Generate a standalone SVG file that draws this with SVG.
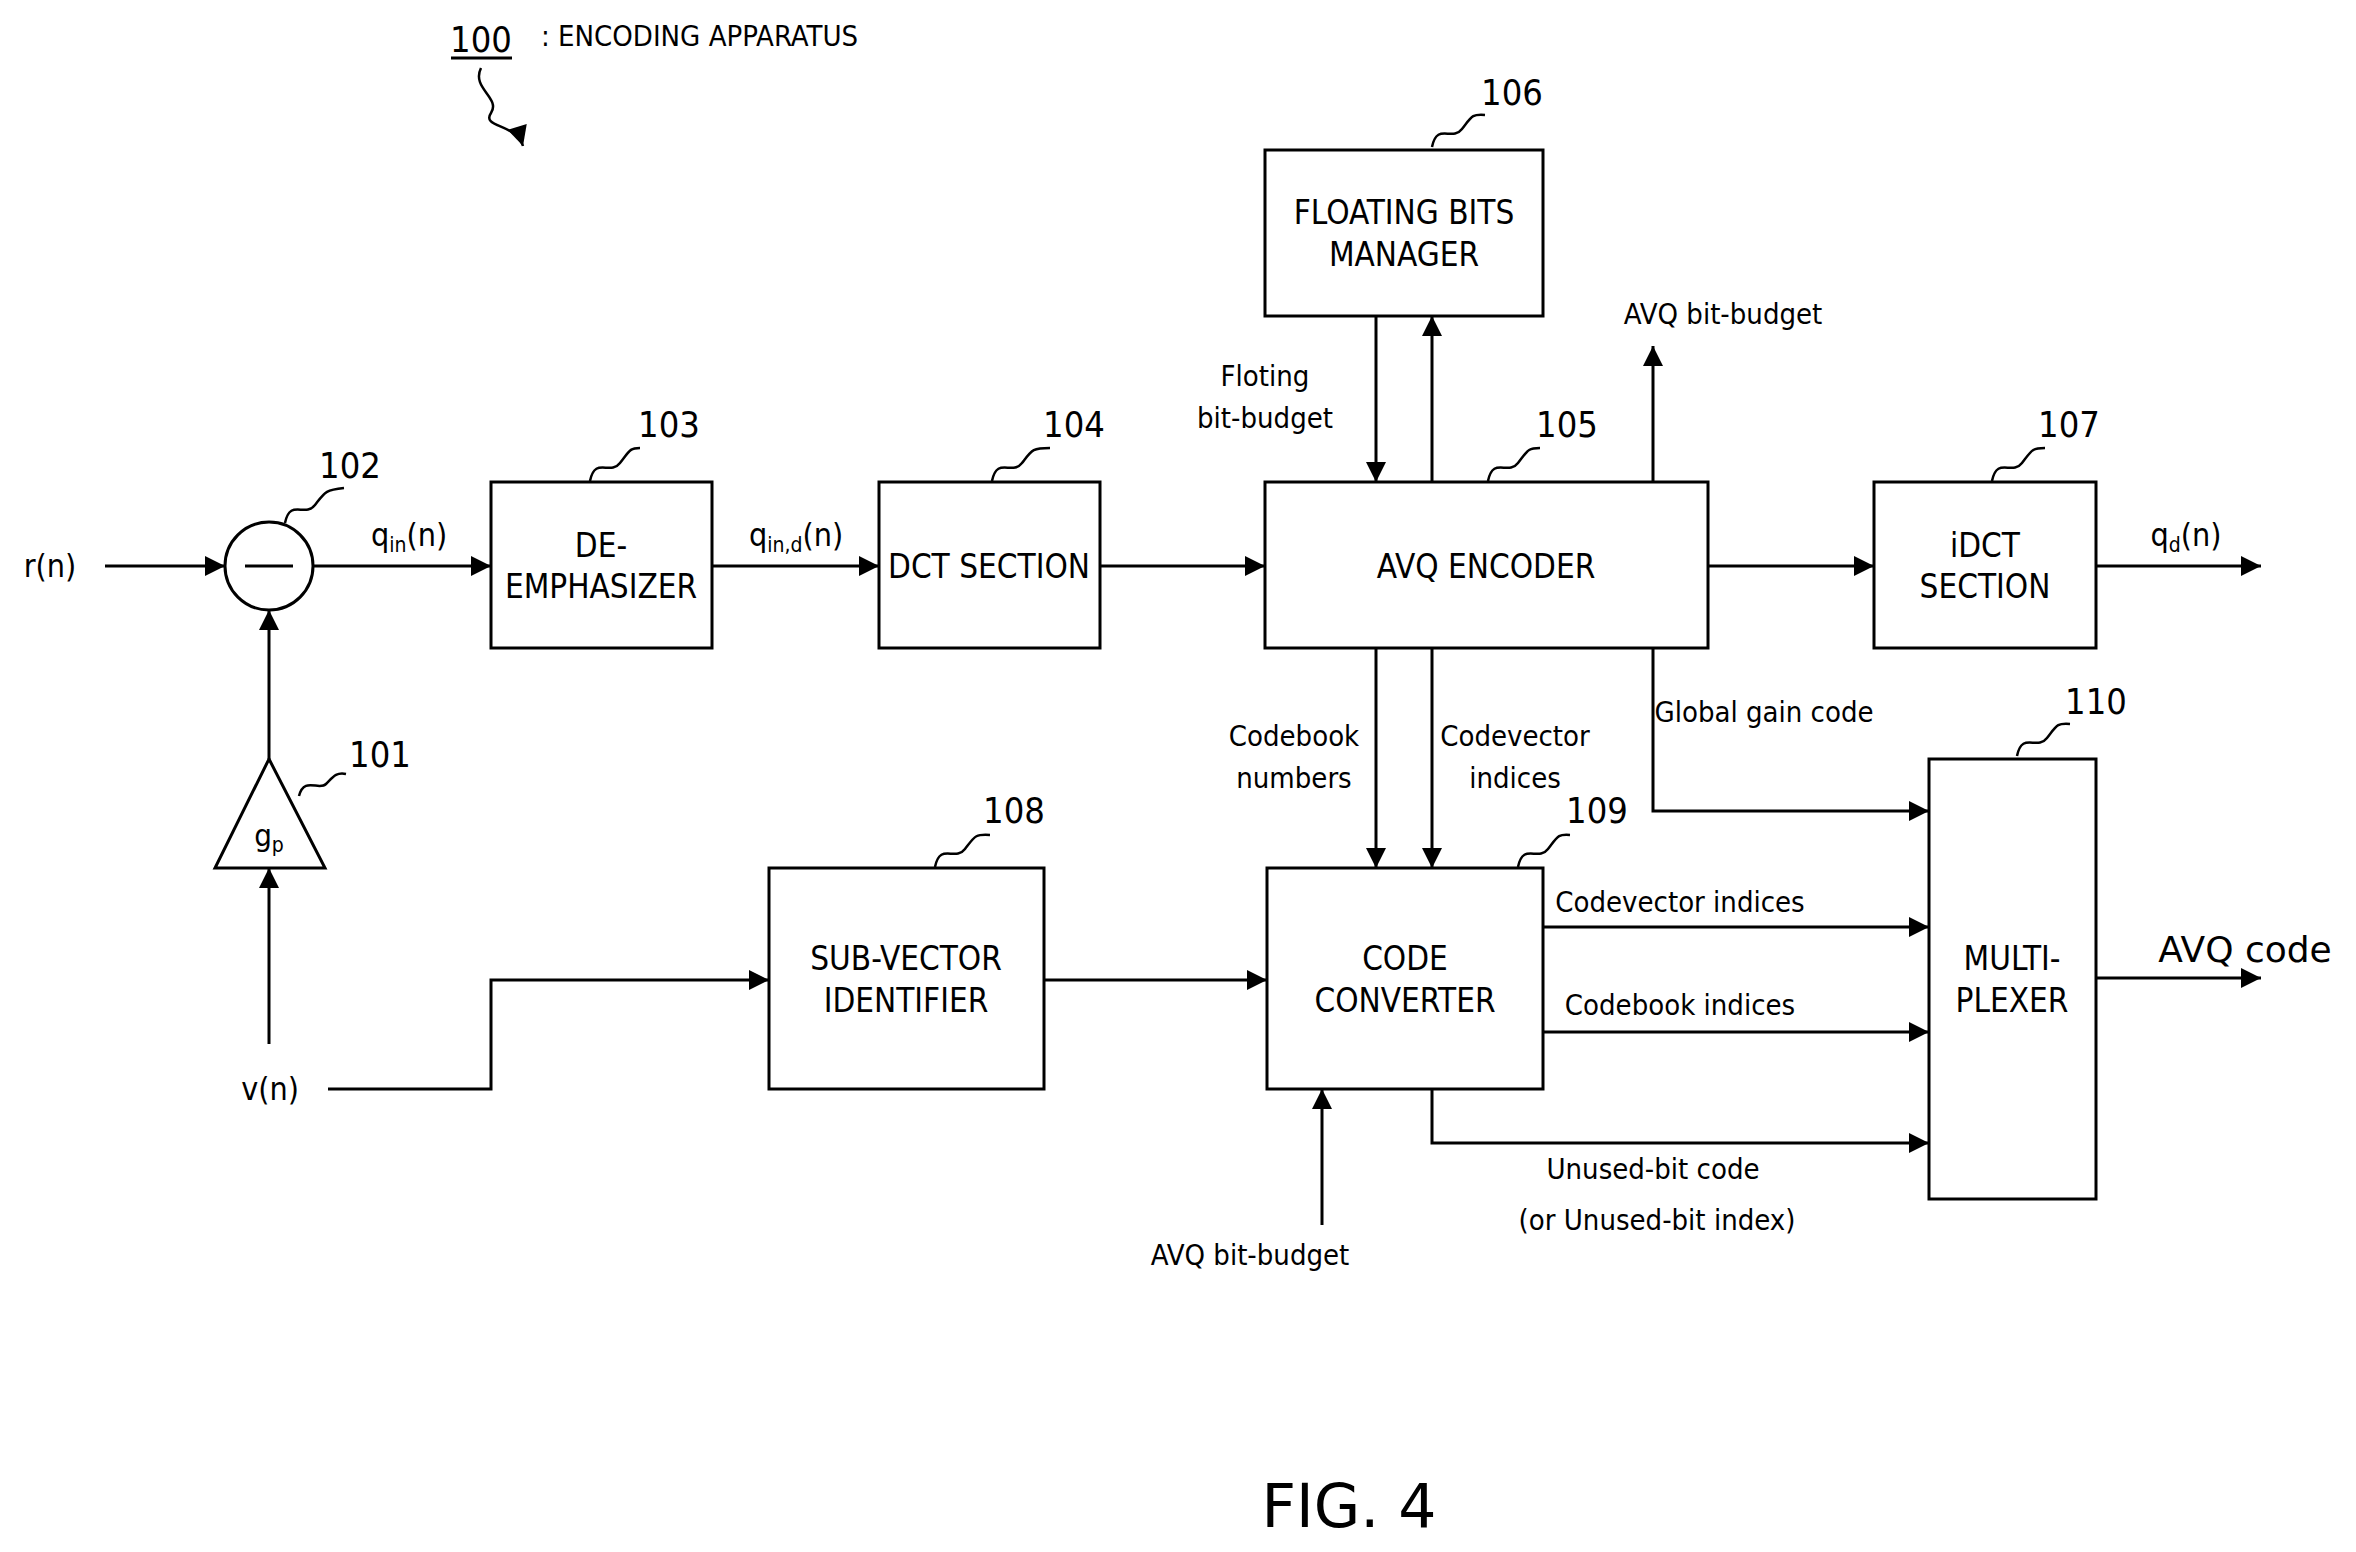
<svg xmlns="http://www.w3.org/2000/svg" width="2356" height="1552" viewBox="0 0 2356 1552">
<style>
.b{fill:#fff;stroke:#000;stroke-width:3}
.l{fill:none;stroke:#000;stroke-width:3}
.s{fill:none;stroke:#000;stroke-width:2.5}
text{font-family:"DejaVu Sans","Liberation Sans",sans-serif;font-stretch:condensed;fill:#000}
.t{font-size:33px;text-anchor:middle}
.m{font-size:29px}
.n{font-size:36px}
</style>
<defs><marker id="A" viewBox="0 0 10 10" refX="10" refY="5" markerWidth="24" markerHeight="20" markerUnits="userSpaceOnUse" orient="auto"><path d="M0,0L10,5L0,10z"/></marker></defs>
<rect width="2356" height="1552" fill="#fff"/>
<g id="header">
<text class="n" x="481" y="52" text-anchor="middle">100</text><line x1="451" y1="58" x2="512" y2="58" stroke="#000" stroke-width="3"/>
<text class="m" x="541" y="46">: ENCODING APPARATUS</text>
<path class="s" d="M481,68c-10,20 20,30 10,45s25,10 32,33" marker-end="url(#A)"/>
</g>
<g id="connectors" class="l">
<path d="M105,566H225" marker-end="url(#A)"/>
<path d="M313,566H491" marker-end="url(#A)"/>
<path d="M712,566H879" marker-end="url(#A)"/>
<path d="M1100,566H1265" marker-end="url(#A)"/>
<path d="M1708,566H1874" marker-end="url(#A)"/>
<path d="M2096,566H2261" marker-end="url(#A)"/>
<path d="M1376,316V482" marker-end="url(#A)"/>
<path d="M1432,482V316" marker-end="url(#A)"/>
<path d="M1653,482V346" marker-end="url(#A)"/>
<path d="M1376,648V868" marker-end="url(#A)"/>
<path d="M1432,648V868" marker-end="url(#A)"/>
<path d="M1653,648V811H1929" marker-end="url(#A)"/>
<path d="M1543,927H1929" marker-end="url(#A)"/>
<path d="M1543,1032H1929" marker-end="url(#A)"/>
<path d="M1432,1089V1143H1929" marker-end="url(#A)"/>
<path d="M1322,1225V1089" marker-end="url(#A)"/>
<path d="M2096,978H2261" marker-end="url(#A)"/>
<path d="M269,759V610" marker-end="url(#A)"/>
<path d="M269,1044V868" marker-end="url(#A)"/>
<path d="M328,1089H491V980H769" marker-end="url(#A)"/>
<path d="M1044,980H1267" marker-end="url(#A)"/>
</g>
<g id="n102"><circle class="b" cx="269" cy="566" r="44"/><line x1="245" y1="566" x2="293" y2="566" stroke="#000" stroke-width="3"/><text class="n" x="350" y="478" text-anchor="middle">102</text><path class="s" d="M285,523c5,-25 20,-5 30,-18s10,-15 29,-17"/></g>
<g id="n101"><path class="b" d="M269,759L325,868H215z"/><text x="269" y="846" font-size="31" text-anchor="middle">g<tspan font-size="21" dy="6">p</tspan></text><text class="n" x="380" y="767" text-anchor="middle">101</text><path class="s" d="M299,796c5,-20 20,-5 27,-12s10,-12 20,-10"/></g>
<g id="n103"><rect class="b" x="491" y="482" width="221" height="166"/><text class="t" x="601" y="557">DE-</text><text class="t" x="601" y="598">EMPHASIZER</text><text class="n" x="669" y="437" text-anchor="middle">103</text><path class="s" d="M590,481c5,-25 20,-5 30,-18s10,-15 20,-15"/></g>
<g id="n104"><rect class="b" x="879" y="482" width="221" height="166"/><text class="t" x="989" y="578">DCT SECTION</text><text class="n" x="1074" y="437" text-anchor="middle">104</text><path class="s" d="M992,481c5,-25 20,-5 30,-18s10,-15 28,-15"/></g>
<g id="n105"><rect class="b" x="1265" y="482" width="443" height="166"/><text class="t" x="1486" y="578">AVQ ENCODER</text><text class="n" x="1567" y="437" text-anchor="middle">105</text><path class="s" d="M1488,481c5,-25 20,-5 30,-18s10,-15 22,-15"/></g>
<g id="n106"><rect class="b" x="1265" y="150" width="278" height="166"/><text class="t" x="1404" y="224">FLOATING BITS</text><text class="t" x="1404" y="266">MANAGER</text><text class="n" x="1512" y="105" text-anchor="middle">106</text><path class="s" d="M1432,147c5,-25 20,-5 30,-18s10,-15 23,-14"/></g>
<g id="n107"><rect class="b" x="1874" y="482" width="222" height="166"/><text class="t" x="1985" y="557">iDCT</text><text class="t" x="1985" y="598">SECTION</text><text class="n" x="2069" y="437" text-anchor="middle">107</text><path class="s" d="M1992,481c5,-25 20,-5 30,-18s10,-15 23,-15"/></g>
<g id="n108"><rect class="b" x="769" y="868" width="275" height="221"/><text class="t" x="906" y="970">SUB-VECTOR</text><text class="t" x="906" y="1012">IDENTIFIER</text><text class="n" x="1014" y="823" text-anchor="middle">108</text><path class="s" d="M935,867c5,-25 20,-5 30,-18s10,-15 25,-14"/></g>
<g id="n109"><rect class="b" x="1267" y="868" width="276" height="221"/><text class="t" x="1405" y="970">CODE</text><text class="t" x="1405" y="1012">CONVERTER</text><text class="n" x="1597" y="823" text-anchor="middle">109</text><path class="s" d="M1518,867c5,-25 20,-5 30,-18s10,-15 22,-14"/></g>
<g id="n110"><rect class="b" x="1929" y="759" width="167" height="440"/><text class="t" x="2012" y="970">MULTI-</text><text class="t" x="2012" y="1012">PLEXER</text><text class="n" x="2096" y="714" text-anchor="middle">110</text><path class="s" d="M2017,756c5,-25 20,-5 30,-18s10,-15 23,-14"/></g>
<g id="labels" class="m">
<text x="50" y="577" text-anchor="middle" font-size="32">r(n)</text>
<text x="270" y="1100" text-anchor="middle" font-size="32">v(n)</text>
<text x="409" y="546" text-anchor="middle" font-size="32">q<tspan font-size="21" dy="6">in</tspan><tspan dy="-6">(n)</tspan></text>
<text x="796" y="546" text-anchor="middle" font-size="32">q<tspan font-size="21" dy="6">in,d</tspan><tspan dy="-6">(n)</tspan></text>
<text x="2186" y="546" text-anchor="middle" font-size="32">q<tspan font-size="21" dy="6">d</tspan><tspan dy="-6">(n)</tspan></text>
<text x="1265" y="386" text-anchor="middle">Floting</text><text x="1265" y="428" text-anchor="middle">bit-budget</text>
<text x="1723" y="324" text-anchor="middle">AVQ bit-budget</text>
<text x="1294" y="746" text-anchor="middle">Codebook</text><text x="1294" y="788" text-anchor="middle">numbers</text>
<text x="1515" y="746" text-anchor="middle">Codevector</text><text x="1515" y="788" text-anchor="middle">indices</text>
<text x="1764" y="722" text-anchor="middle">Global gain code</text>
<text x="1680" y="912" text-anchor="middle">Codevector indices</text>
<text x="1680" y="1015" text-anchor="middle">Codebook indices</text>
<text x="1653" y="1179" text-anchor="middle">Unused-bit code</text>
<text x="1657" y="1230" text-anchor="middle">(or Unused-bit index)</text>
<text x="1250" y="1265" text-anchor="middle">AVQ bit-budget</text>
<text x="2245" y="962" text-anchor="middle" font-size="36" style="font-stretch:normal">AVQ code</text>
</g>
<text x="1349" y="1527" text-anchor="middle" font-size="60" style="font-stretch:normal">FIG. 4</text>
</svg>
